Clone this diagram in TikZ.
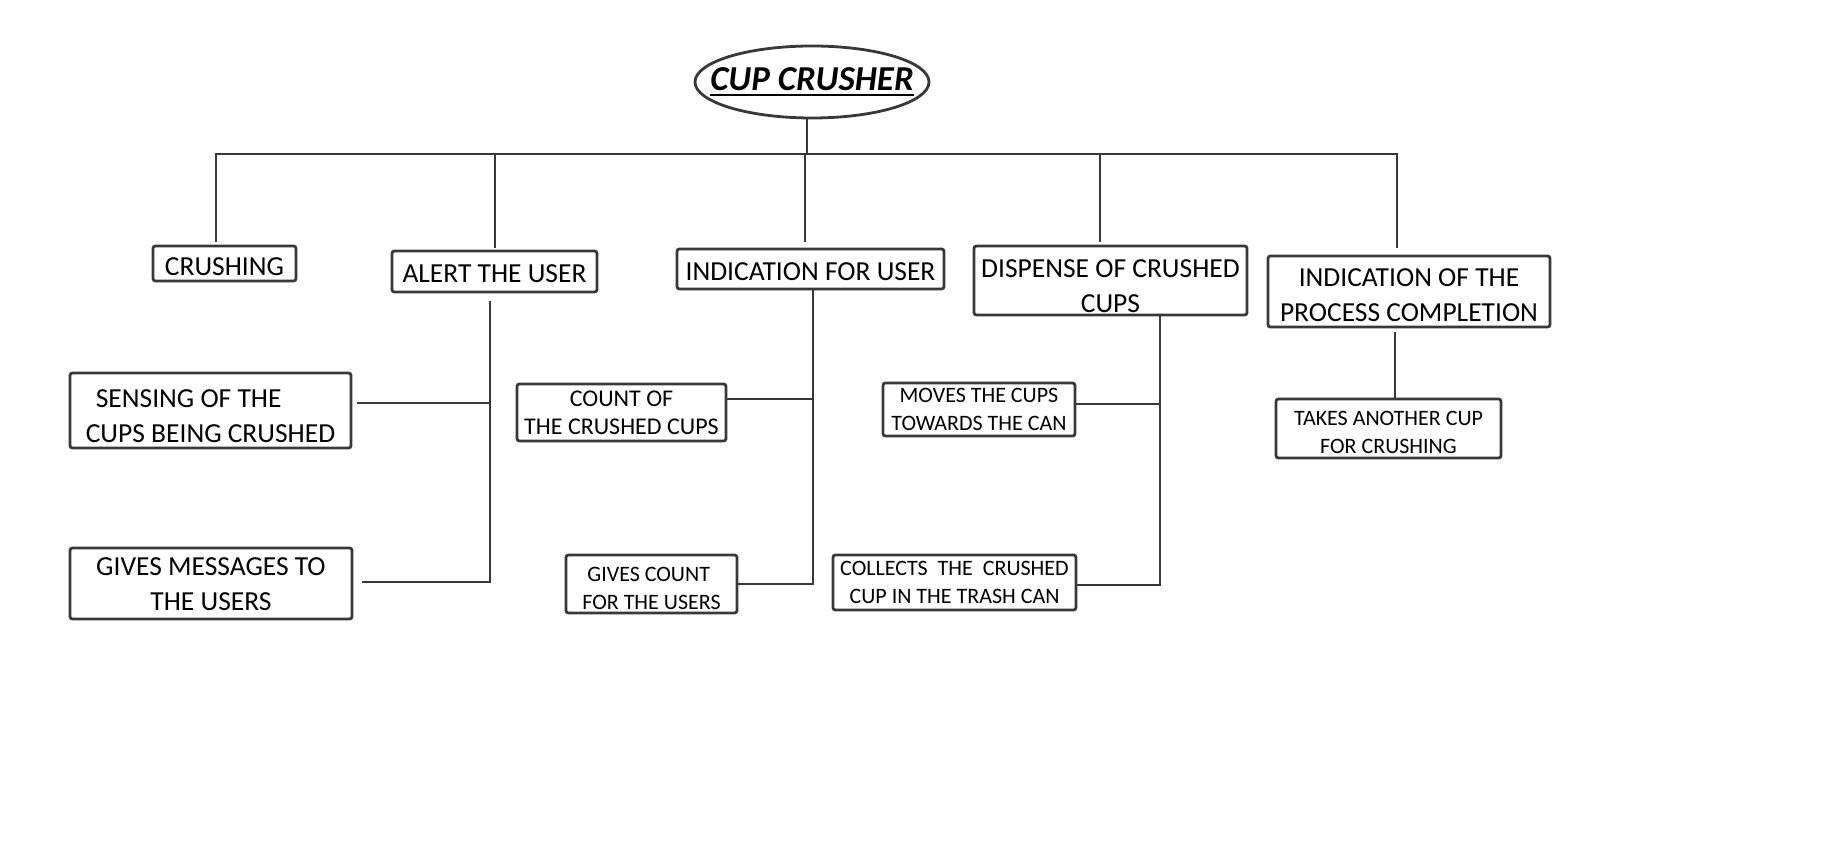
\documentclass[tikz,border=0pt]{standalone}
\usepackage{fontspec}
\setmainfont{Carlito}
\usetikzlibrary{shapes.geometric}
\newcommand{\myul}[1]{\vtop{\hbox{#1}\kern1.5pt\hrule height 1.1pt}}
\newcommand{\dn}[1]{\rule{0pt}{\dimexpr\fontcharht\font`\H+#1\relax}}
\begin{document}
\begin{tikzpicture}[x=0.5pt,y=-0.5pt,
  ln/.style={draw=black!78,line width=1.4pt,line cap=rect},
  bx/.style={draw=black!78,line width=1.4pt,rounded corners=1.2pt,inner sep=0pt,align=center},
  big/.style={font=\fontsize{13.75}{17.5}\selectfont},
  small/.style={font=\fontsize{11}{13.6}\selectfont}]
\useasboundingbox (0,0) rectangle (1832,849);

\node[ellipse,draw=black!78,line width=1.4pt,minimum width=117pt,minimum height=36pt,inner sep=0pt,
  font=\fontsize{17.5}{20}\selectfont\bfseries\itshape] (title) at (812,82) {\makebox[0pt]{\myul{CUP CRUSHER}}};

\node[bx,big,minimum width=71.5pt,minimum height=17.5pt] (crush) at (224.5,263.5) {\dn{3.5pt}CRUSHING};
\node[bx,big,minimum width=102.5pt,minimum height=20.5pt] (alert) at (494.5,271.5) {\dn{2.4pt}ALERT THE USER};
\node[bx,big,minimum width=133.5pt,minimum height=20pt] (induser) at (810.5,269) {\dn{2.4pt}INDICATION FOR USER};
\node[bx,big,minimum width=136.5pt,minimum height=34.5pt] (disp) at (1110.5,280.5) {\dn{5.8pt}DISPENSE OF CRUSHED\\CUPS};
\node[bx,big,minimum width=141pt,minimum height=35.5pt] (proc) at (1409,291.5) {\dn{3.5pt}INDICATION OF THE\\PROCESS COMPLETION};
\node[bx,big,minimum width=140.5pt,minimum height=37.5pt,align=left] (sens) at (210.5,410.5) {\dn{5.8pt}\hspace{5pt}SENSING OF THE\\CUPS BEING CRUSHED};
\node[bx,big,minimum width=141pt,minimum height=35.5pt] (msg) at (211,583.5) {\dn{1.2pt}GIVES MESSAGES TO\\THE USERS};
\node[bx,font=\fontsize{12}{14}\selectfont,minimum width=104.5pt,minimum height=28.5pt] (count) at (621.5,412.5) {COUNT OF\\THE CRUSHED CUPS};
\node[bx,font=\fontsize{11}{14}\selectfont,minimum width=85.5pt,minimum height=29pt] (gcount) at (651.5,584) {\raisebox{-5.8pt}[0pt][0pt]{\begin{tabular}[c]{@{}l@{}}\hspace{2.5pt}GIVES COUNT\\FOR THE USERS\end{tabular}}};
\node[bx,small,minimum width=96pt,minimum height=26.5pt] (moves) at (979,409.5) {MOVES THE CUPS\\TOWARDS THE CAN};
\node[bx,small,minimum width=121.5pt,minimum height=27.5pt] (coll) at (954.5,582.5) {COLLECTS\ \ THE\ \ CRUSHED\\CUP IN THE TRASH CAN};
\node[bx,small,minimum width=112.5pt,minimum height=29.5pt] (takes) at (1388.5,428.5) {\dn{4pt}TAKES ANOTHER CUP\\FOR CRUSHING};

% bus
\coordinate (busL) at (216,154);
\coordinate (busR) at (1397,154);
\coordinate (b2) at (495,154);
\coordinate (b3) at (805,154);
\coordinate (b4) at (1100,154);
\draw[ln] (busL) -- (busR);
\draw[ln] ([xshift=-2.5pt]title.south) -- ([xshift=-2.5pt]title.south |- busL);
\draw[ln,shorten >=2pt] (busL) -- (busL |- crush.north);
\draw[ln,shorten >=1.5pt] (b2) -- (b2 |- alert.north);
\draw[ln,shorten >=3.5pt] (b3) -- (b3 |- induser.north);
\draw[ln,shorten >=2pt] (b4) -- (b4 |- disp.north);
\draw[ln,shorten >=4pt] (busR) -- (busR |- proc.north);

% alert subtree
\coordinate (a1) at (490,403);
\coordinate (a2) at (490,582);
\draw[ln,shorten <=4.5pt] (alert.south -| a1) -- (a2);
\draw[ln,shorten >=3pt] (a1) -- (a1 -| sens.east);
\draw[ln,shorten >=5pt] (a2) -- (a2 -| msg.east);

% indication for user subtree
\coordinate (i1) at (813,399);
\coordinate (i2) at (813,584);
\draw[ln] (induser.south -| i1) -- (i2);
\draw[ln] (i1) -- (i1 -| count.east);
\draw[ln] (i2) -- (i2 -| gcount.east);

% dispense subtree
\coordinate (d1) at (1160,404);
\coordinate (d2) at (1160,585);
\draw[ln] (disp.south -| d1) -- (d2);
\draw[ln] (d1) -- (d1 -| moves.east);
\draw[ln] (d2) -- (d2 -| coll.east);

% process subtree
\coordinate (p1) at (1395,398);
\draw[ln,shorten <=2.5pt] (proc.south -| p1) -- (takes.north -| p1);
\end{tikzpicture}
\end{document}
